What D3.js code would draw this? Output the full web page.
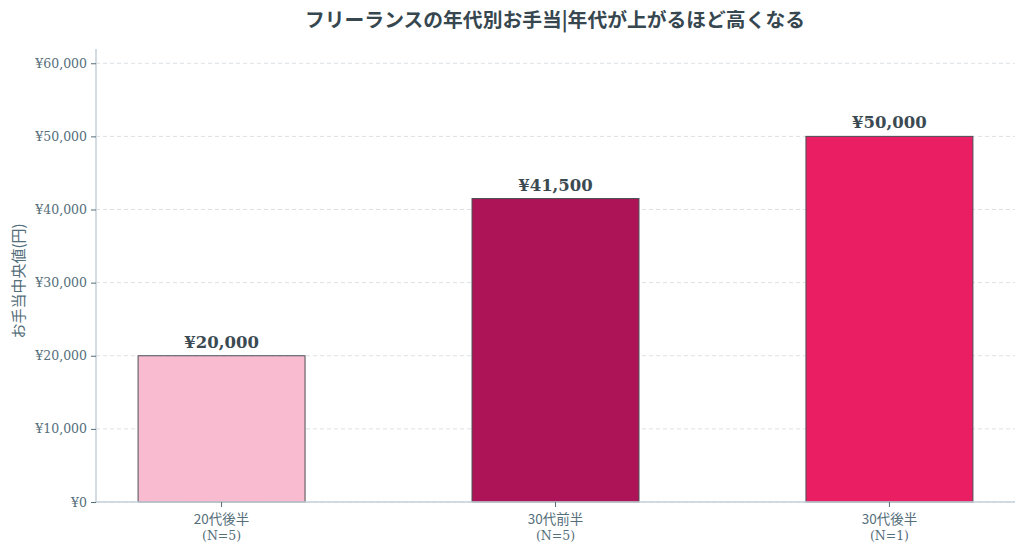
<!DOCTYPE html>
<html>
<head>
<meta charset="utf-8">
<script src="https://cdn.jsdelivr.net/npm/d3@7.9.0/dist/d3.min.js"></script>
<style>
  body { margin: 0; background: #fff; }
  svg { display: block; font-family: "DejaVu Serif", "Noto Sans CJK JP", serif; }
</style>
</head>
<body>
<svg id="chart" width="1024" height="555"></svg>
<script>
// Data
const categories = ["20代後半", "30代前半", "30代後半"];
const counts = [5, 5, 1];
const medians = [20000, 41500, 50000];
const barColors = ["#f8bbd0", "#ad1457", "#e91e63"];
const yTicks = [0, 10000, 20000, 30000, 40000, 50000, 60000];

const svg = d3.select("#chart");
const margin = { top: 49, right: 9, bottom: 53, left: 96 };
const width = 1024 - margin.left - margin.right;
const height = 555 - margin.top - margin.bottom;

const g = svg.append("g").attr("transform", `translate(${margin.left},${margin.top})`);

const x = d3.scaleBand()
  .domain(categories)
  .range([0, width])
  .paddingInner(0.5)
  .paddingOuter(0.126);

const y = d3.scaleLinear().domain([0, 61950]).range([height, 0]);

const yen = (v) => "¥" + d3.format(",")(v);

// Gridlines
g.append("g")
  .selectAll("line")
  .data(yTicks)
  .join("line")
  .attr("x1", 0)
  .attr("x2", width)
  .attr("y1", (d) => y(d))
  .attr("y2", (d) => y(d))
  .attr("stroke", "#dde1e4")
  .attr("stroke-width", 1)
  .attr("stroke-dasharray", "4,3");

// Bars
g.selectAll("rect.bar")
  .data(medians)
  .join("rect")
  .attr("class", "bar")
  .attr("x", (d, i) => x(categories[i]))
  .attr("y", (d) => y(d))
  .attr("width", x.bandwidth())
  .attr("height", (d) => height - y(d))
  .attr("fill", (d, i) => barColors[i])
  .attr("stroke", "#4a4f55")
  .attr("stroke-width", 1);

// Value labels
g.selectAll("text.val")
  .data(medians)
  .join("text")
  .attr("class", "val")
  .attr("x", (d, i) => x(categories[i]) + x.bandwidth() / 2)
  .attr("y", (d) => y(d) - 8)
  .attr("text-anchor", "middle")
  .attr("font-size", 16.5)
  .attr("font-weight", "bold")
  .attr("fill", "#3b4a52")
  .text((d) => yen(d));

// Y axis
const yAxis = g.append("g")
  .call(d3.axisLeft(y).tickValues(yTicks).tickFormat(yen).tickSize(5).tickPadding(4));
yAxis.select(".domain").attr("stroke", "#c5d0d8").attr("stroke-width", 1.5)
  .attr("d", `M0,${height}V0`);
yAxis.selectAll(".tick line").attr("stroke", "#546e7a");
yAxis.selectAll(".tick text").attr("fill", "#546e7a").attr("font-size", 12.5)
  .attr("font-family", "DejaVu Serif, serif");

// X axis
const xAxis = g.append("g")
  .attr("transform", `translate(0,${height})`)
  .call(d3.axisBottom(x).tickSize(5).tickPadding(6));
xAxis.select(".domain").attr("stroke", "#c5d0d8").attr("stroke-width", 1.5)
  .attr("d", `M0,0H${width}`);
xAxis.selectAll(".tick line").attr("stroke", "#546e7a");
xAxis.selectAll(".tick text").remove();
xAxis.selectAll(".tick").each(function (d, i) {
  const t = d3.select(this).append("text")
    .attr("fill", "#546e7a")
    .attr("font-size", 13.5)
    .attr("text-anchor", "middle")
    .attr("y", 22);
  t.append("tspan").attr("x", 0).attr("font-family", "Noto Sans CJK JP, sans-serif").text(d);
  t.append("tspan").attr("x", 0).attr("dy", 16).attr("font-family", "DejaVu Serif, serif")
    .attr("font-size", 12.5).text(`(N=${counts[i]})`);
});

// Y axis label
svg.append("text")
  .attr("transform", `translate(24,281) rotate(-90)`)
  .attr("text-anchor", "middle")
  .attr("font-family", "Noto Sans CJK JP, sans-serif")
  .attr("font-size", 15)
  .attr("fill", "#546e7a")
  .text("お手当中央値(円)");

// Title
svg.append("text")
  .attr("x", 555)
  .attr("y", 27)
  .attr("text-anchor", "middle")
  .attr("font-family", "Noto Sans CJK JP, sans-serif")
  .attr("font-size", 19.8)
  .attr("font-weight", "bold")
  .attr("fill", "#37474f")
  .text("フリーランスの年代別お手当|年代が上がるほど高くなる");
</script>
</body>
</html>
